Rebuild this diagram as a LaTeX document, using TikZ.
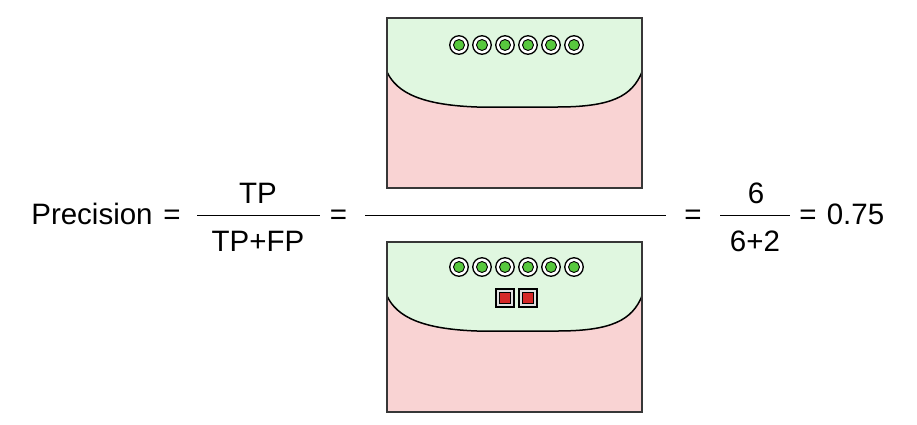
\documentclass[tikz,border=0pt]{standalone}
\usepackage{fontspec}
\setmainfont{Liberation Sans}
\definecolor{greenfill}{RGB}{224,247,224}
\definecolor{pinkfill}{RGB}{249,211,211}
\definecolor{dotgreen}{RGB}{88,200,62}
\definecolor{sqred}{RGB}{214,40,40}
\definecolor{boxgray}{RGB}{55,55,55}
\tikzset{
  txt/.style={font=\fontsize{29.5}{34}\selectfont, inner sep=0pt, anchor=base},
  bar/.style={line width=1.5pt, black},
  ring/.style={circle, draw=black, line width=1.3pt, fill=white, minimum size=18.5pt, inner sep=0pt},
  gdot/.style={circle, draw=black, line width=0.9pt, fill=dotgreen, minimum size=11pt, inner sep=0pt},
  sqout/.style={rectangle, draw=black, line width=1.3pt, fill=white!88!black, minimum size=18pt, inner sep=0pt},
  sqin/.style={rectangle, draw=black, line width=0.9pt, fill=sqred, minimum size=10.5pt, inner sep=0pt},
  tray/.pic={
    \fill[pinkfill] (0,0) rectangle (255,170);
    \fill[greenfill] (0,0) -- (0,54) .. controls (10,75) and (35,87) .. (90,89) -- (170,89)
       .. controls (225,89) and (245,78) .. (255,54) -- (255,0) -- cycle;
    \draw[line width=1.5pt, black] (0,54) .. controls (10,75) and (35,87) .. (90,89) -- (170,89)
       .. controls (225,89) and (245,78) .. (255,54);
    \draw[line width=1.6pt, boxgray] (0,0) rectangle (255,170);
  }
}
\begin{document}
\begin{tikzpicture}[x=1pt,y=-1pt]
\useasboundingbox (0,0) rectangle (917,424);
% trays
\pic at (387,18) {tray};
\pic at (387,242) {tray};
% dots
\foreach \i/\x in {1/459,2/482,3/505,4/528,5/551,6/574}{
  \node[ring] (t\i) at (\x,45) {};
  \node[gdot] (tg\i) at (t\i) {};
  \node[ring] (b\i) at (\x,267) {};
  \node[gdot] (bg\i) at (b\i) {};
}
\node[sqout] (s1) at (505,298) {};
\node[sqin] (s1i) at (s1) {};
\node[sqout] (s2) at (528,298) {};
\node[sqin] (s2i) at (s2) {};
% text
\node[txt] (prec) at (92,224) {Precision};
\node[txt] (eq1) at (172,224) {=};
\node[txt] (tp) at (258,203) {TP};
\node[txt] (tpfp) at (258,251) {TP+FP};
\coordinate (f1l) at (197,215.5);
\coordinate (f1r) at (320,215.5);
\draw[bar] (f1l) -- (f1r);
\node[txt] (eq2) at (338.5,224) {=};
\coordinate (f2l) at (365,215.5);
\coordinate (f2r) at (666,215.5);
\draw[bar] (f2l) -- (f2r);
\node[txt] (eq3) at (693,224) {=};
\node[txt] (six) at (756,203) {6};
\node[txt] (sixtwo) at (755,251) {6+2};
\coordinate (f3l) at (720,215.5);
\coordinate (f3r) at (790,215.5);
\draw[bar] (f3l) -- (f3r);
\node[txt] (eq4) at (808,224) {=};
\node[txt] (res) at (855.5,224) {0.75};
\end{tikzpicture}
\end{document}
